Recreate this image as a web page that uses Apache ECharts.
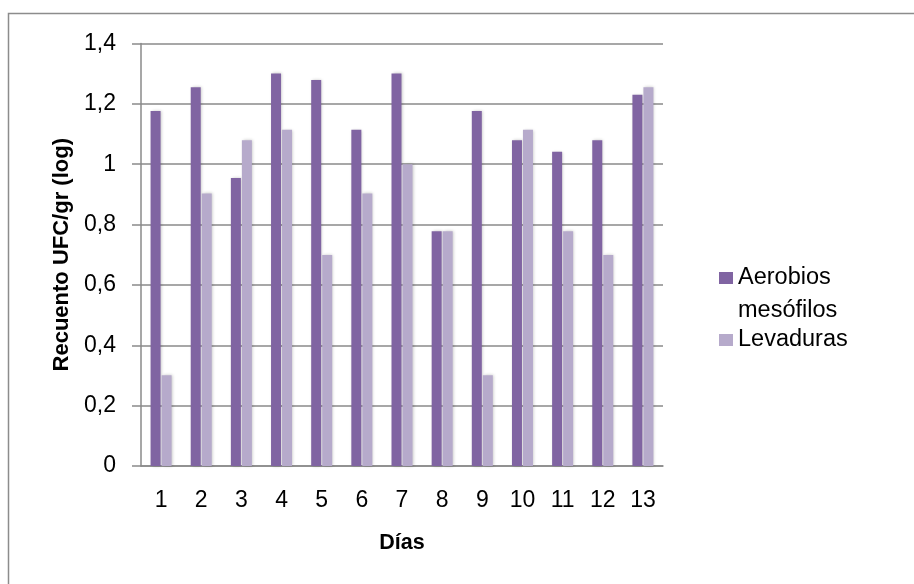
<!DOCTYPE html>
<html>
<head>
<meta charset="utf-8">
<script src="https://cdn.jsdelivr.net/npm/echarts@6/dist/echarts.min.js"></script>
<style>
  html, body { margin: 0; padding: 0; background: #ffffff; }
  #chart { width: 914px; height: 584px; }
</style>
</head>
<body>
<div id="chart"></div>
<script>
// Recuento por día (log UFC/gr)
const dias = ['1', '2', '3', '4', '5', '6', '7', '8', '9', '10', '11', '12', '13'];
const aerobios = [1.176, 1.255, 0.954, 1.301, 1.279, 1.114, 1.301, 0.778, 1.176, 1.079, 1.041, 1.079, 1.230];
const levaduras = [0.301, 0.903, 1.079, 1.114, 0.699, 0.903, 1.000, 0.778, 0.301, 1.114, 0.778, 0.699, 1.255];
const yTicks = [0, 0.2, 0.4, 0.6, 0.8, 1, 1.2, 1.4];
const serieAerobios = 'Aerobios mesófilos';
const serieLevaduras = 'Levaduras';

const FONT = '"Liberation Sans", "DejaVu Sans", sans-serif';
const GRID_COLOR = '#8a8a8a';

const chart = echarts.init(document.getElementById('chart'), null, { renderer: 'canvas' });

const barShadow = {
  shadowColor: 'rgba(0,0,0,0.22)',
  shadowBlur: 3,
  shadowOffsetX: 1,
  shadowOffsetY: 0
};

chart.setOption({
  backgroundColor: '#ffffff',
  animation: false,
  textStyle: { fontFamily: FONT },
  graphic: [{
    type: 'rect',
    shape: { x: 8.5, y: 13.5, width: 1000, height: 1000 },
    style: { fill: 'none', stroke: '#8c8c8c', lineWidth: 1.5 },
    z: -10
  }],
  grid: { left: 141, right: 251, top: 43.5, bottom: 118, containLabel: false },
  legend: {
    orient: 'vertical',
    left: 719,
    top: 228.5,
    padding: 0,
    itemWidth: 14,
    itemHeight: 12,
    itemGap: -4,
    icon: 'rect',
    textStyle: { fontSize: 23.5, color: '#000', lineHeight: 33, fontFamily: FONT },
    // the long name wraps onto two lines; a blank first line keeps
    // "Aerobios" level with its colour square
    formatter: name => name === serieAerobios ? ' \nAerobios\nmesófilos' : name,
    data: [serieAerobios, serieLevaduras]
  },
  xAxis: {
    type: 'category',
    data: dias,
    name: 'Días',
    nameLocation: 'middle',
    nameGap: 66,
    nameTextStyle: { fontSize: 21.5, fontWeight: 'bold', color: '#000', fontFamily: FONT },
    axisLine: { lineStyle: { color: GRID_COLOR, width: 1.5 } },
    axisTick: { show: false },
    axisLabel: { fontSize: 23, color: '#000', margin: 23, fontFamily: FONT }
  },
  yAxis: {
    type: 'value',
    min: yTicks[0],
    max: yTicks[yTicks.length - 1],
    interval: 0.2,
    name: 'Recuento UFC/gr (log)',
    nameLocation: 'middle',
    nameGap: 68,
    nameTextStyle: { fontSize: 22, fontWeight: 'bold', color: '#000', fontFamily: FONT },
    axisLine: { show: true, lineStyle: { color: GRID_COLOR, width: 1.5 } },
    axisTick: { show: true, inside: false, length: 9, lineStyle: { color: GRID_COLOR, width: 1.5 } },
    axisLabel: {
      fontSize: 23, color: '#000', margin: 25, fontFamily: FONT,
      formatter: v => String(Math.round(v * 10) / 10).replace('.', ',')
    },
    splitLine: { show: true, lineStyle: { color: GRID_COLOR, width: 1.5 } }
  },
  series: [
    {
      name: serieAerobios,
      type: 'bar',
      data: aerobios,
      barWidth: 10,
      barGap: '10%',
      itemStyle: Object.assign({ color: '#8064a2' }, barShadow)
    },
    {
      name: serieLevaduras,
      type: 'bar',
      data: levaduras,
      barWidth: 10,
      barGap: '10%',
      itemStyle: Object.assign({ color: '#b6aacb' }, barShadow)
    }
  ]
});
</script>
</body>
</html>
